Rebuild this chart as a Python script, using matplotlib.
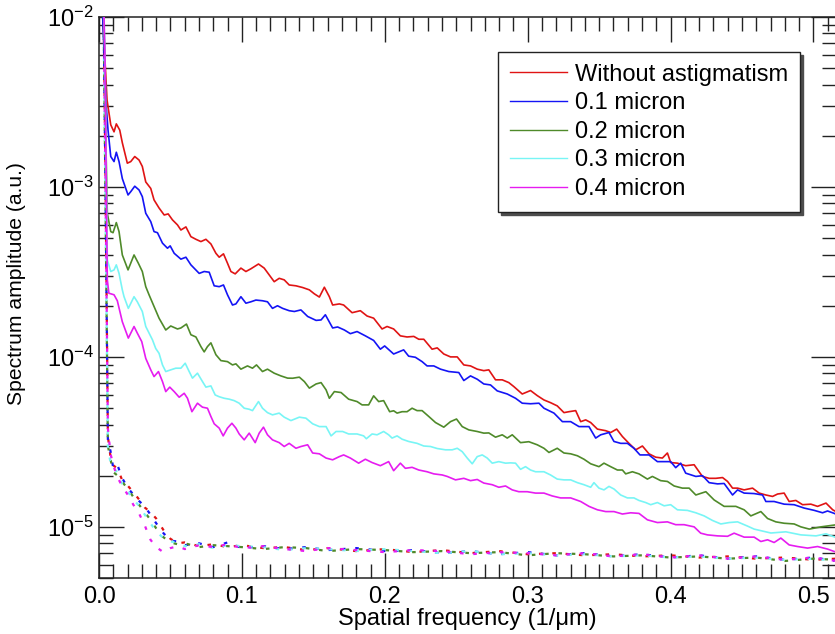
"""
Spectrum amplitude vs spatial frequency for several amounts of astigmatism,
with the matching noise floors drawn dotted underneath.
"""

import math

import matplotlib
matplotlib.use("Agg")
import matplotlib.pyplot as plt
from matplotlib.ticker import FixedLocator, MultipleLocator, FuncFormatter, NullFormatter

plt.rcParams["font.family"] = ["Liberation Sans", "DejaVu Sans"]
plt.rcParams["mathtext.fontset"] = "custom"
plt.rcParams["mathtext.rm"] = "Liberation Sans"

# ---------------------------------------------------------------------------
# Data
# ---------------------------------------------------------------------------
labels = ["Without astigmatism", "0.1 micron", "0.2 micron", "0.3 micron", "0.4 micron"]
colors = ["#e01414", "#1414f5", "#4f8a2a", "#78f5f5", "#e61cf0"]

freq_red = [
    0.002, 0.0042, 0.0056, 0.0082, 0.0105, 0.0121, 0.0145, 0.0163, 0.0198, 0.0222,
    0.025, 0.028, 0.0303, 0.0327, 0.0362, 0.0385, 0.042, 0.0456, 0.0484, 0.0514,
    0.0549, 0.0573, 0.0608, 0.0643, 0.0678, 0.0713, 0.0748, 0.0783, 0.0818, 0.0841,
    0.0871, 0.0899, 0.0923, 0.0953, 0.0993, 0.1028, 0.1063, 0.1116, 0.1156, 0.1191,
    0.1226, 0.1261, 0.1296, 0.1331, 0.1378, 0.1425, 0.1472, 0.1507, 0.1542, 0.1577,
    0.1612, 0.1635, 0.1682, 0.1712, 0.1771, 0.1829, 0.1876, 0.1922, 0.1981, 0.2016,
    0.2062, 0.2109, 0.2156, 0.2203, 0.2238, 0.2273, 0.2331, 0.2367, 0.2413, 0.246,
    0.2507, 0.2553, 0.26, 0.2647, 0.2693, 0.2728, 0.2775, 0.2822, 0.2868, 0.2903,
    0.2962, 0.302, 0.3067, 0.3114, 0.316, 0.3207, 0.3254, 0.3289, 0.3336, 0.3371,
    0.3406, 0.3441, 0.3488, 0.3546, 0.3581, 0.3623, 0.3663, 0.3709, 0.3756, 0.3803,
    0.3849, 0.3896, 0.3943, 0.3978, 0.4001, 0.4048, 0.4106, 0.4165, 0.4223, 0.427,
    0.4317, 0.4364, 0.4399, 0.4434, 0.4469, 0.4515, 0.4574, 0.462, 0.4667, 0.4714,
    0.4749, 0.4795, 0.483, 0.4877, 0.4924, 0.4982, 0.5029, 0.5088, 0.5135, 0.5165,
]
amp_red = [
    1.26e-2, 5.58e-3, 3.25e-3, 2.32e-3, 2.11e-3, 2.35e-3, 2.16e-3, 1.82e-3, 1.38e-3, 1.41e-3,
    1.51e-3, 1.44e-3, 1.32e-3, 1.07e-3, 9.8e-4, 8.39e-4, 7.52e-4, 6.84e-4, 6.94e-4, 6.40e-4,
    5.98e-4, 5.58e-4, 5.82e-4, 5.10e-4, 4.92e-4, 4.77e-4, 4.92e-4, 4.62e-4, 4.07e-4, 3.86e-4,
    4.04e-4, 3.56e-4, 3.18e-4, 3.08e-4, 3.33e-4, 3.18e-4, 3.30e-4, 3.52e-4, 3.33e-4, 3.04e-4,
    2.77e-4, 2.90e-4, 2.84e-4, 2.65e-4, 2.62e-4, 2.56e-4, 2.48e-4, 2.35e-4, 2.25e-4, 2.57e-4,
    2.26e-4, 2.02e-4, 2.05e-4, 2.02e-4, 1.82e-4, 1.87e-4, 1.74e-4, 1.69e-4, 1.46e-4, 1.51e-4,
    1.46e-4, 1.33e-4, 1.31e-4, 1.32e-4, 1.27e-4, 1.27e-4, 1.11e-4, 1.13e-4, 1.04e-4, 1.00e-4,
    1.00e-4, 8.97e-5, 8.85e-5, 8.47e-5, 8.30e-5, 8.39e-5, 7.33e-5, 7.33e-5, 7.06e-5, 6.69e-5,
    6.05e-5, 6.34e-5, 5.92e-5, 5.58e-5, 5.38e-5, 5.15e-5, 4.70e-5, 4.76e-5, 4.83e-5, 4.16e-5,
    4.26e-5, 4.11e-5, 3.76e-5, 3.68e-5, 3.59e-5, 3.76e-5, 3.40e-5, 3.10e-5, 2.84e-5, 2.99e-5,
    2.69e-5, 2.57e-5, 2.54e-5, 2.72e-5, 2.39e-5, 2.37e-5, 2.29e-5, 2.32e-5, 1.98e-5, 1.93e-5,
    1.93e-5, 1.95e-5, 1.85e-5, 1.69e-5, 1.69e-5, 1.65e-5, 1.69e-5, 1.58e-5, 1.54e-5, 1.51e-5,
    1.56e-5, 1.58e-5, 1.41e-5, 1.43e-5, 1.35e-5, 1.36e-5, 1.32e-5, 1.38e-5, 1.26e-5, 1.22e-5,
]

freq_blue = [
    0.002, 0.0039, 0.0047, 0.0063, 0.0082, 0.0105, 0.0121, 0.014, 0.0163, 0.0203,
    0.0222, 0.025, 0.028, 0.0303, 0.0327, 0.0362, 0.0385, 0.0409, 0.0444, 0.0479,
    0.0498, 0.0526, 0.0573, 0.0608, 0.0643, 0.0701, 0.0736, 0.0771, 0.0806, 0.0841,
    0.0871, 0.0899, 0.0934, 0.0958, 0.0993, 0.1028, 0.1063, 0.1098, 0.1144, 0.1179,
    0.1214, 0.1249, 0.1285, 0.1331, 0.1367, 0.1413, 0.146, 0.1519, 0.1554, 0.1584,
    0.1635, 0.167, 0.1717, 0.1759, 0.1806, 0.1864, 0.1922, 0.1969, 0.1999, 0.2062,
    0.2132, 0.2167, 0.2214, 0.2261, 0.2296, 0.2343, 0.239, 0.2448, 0.2518, 0.2553,
    0.26, 0.2647, 0.2693, 0.274, 0.2787, 0.2857, 0.2915, 0.2962, 0.302, 0.3079,
    0.3114, 0.3184, 0.3243, 0.3301, 0.3359, 0.3429, 0.3476, 0.3511, 0.3569, 0.3604,
    0.3651, 0.3698, 0.3744, 0.3786, 0.3849, 0.3908, 0.4001, 0.4036, 0.4071, 0.4106,
    0.4177, 0.4224, 0.427, 0.4329, 0.4375, 0.4434, 0.4469, 0.4515, 0.4585, 0.4644,
    0.4667, 0.4725, 0.4795, 0.4865, 0.4935, 0.5006, 0.5064, 0.5099, 0.5146, 0.5165,
]
amp_blue = [
    1.26e-2, 5.58e-3, 3.25e-3, 2.16e-3, 1.51e-3, 1.41e-3, 1.60e-3, 1.41e-3, 1.12e-3, 8.97e-4,
    9.38e-4, 1.01e-3, 9.6e-4, 8.77e-4, 7.0e-4, 6.25e-4, 5.46e-4, 5.38e-4, 4.67e-4, 4.36e-4,
    4.5e-4, 4.07e-4, 3.76e-4, 3.86e-4, 3.48e-4, 3.10e-4, 3.18e-4, 3.15e-4, 2.62e-4, 2.59e-4,
    2.65e-4, 2.32e-4, 2.02e-4, 2.05e-4, 2.26e-4, 2.07e-4, 2.11e-4, 2.16e-4, 2.14e-4, 2.11e-4,
    1.93e-4, 2.0e-4, 1.93e-4, 1.87e-4, 1.85e-4, 1.89e-4, 1.73e-4, 1.64e-4, 1.65e-4, 1.77e-4,
    1.48e-4, 1.50e-4, 1.44e-4, 1.37e-4, 1.41e-4, 1.33e-4, 1.25e-4, 1.11e-4, 1.16e-4, 1.04e-4,
    1.10e-4, 1.01e-4, 9.95e-5, 9.38e-5, 8.85e-5, 8.85e-5, 8.47e-5, 8.2e-5, 8.09e-5, 7.26e-5,
    7.73e-5, 7.39e-5, 6.93e-5, 6.84e-5, 6.31e-5, 6.05e-5, 5.71e-5, 5.34e-5, 5.30e-5, 5.34e-5,
    4.99e-5, 4.67e-5, 4.16e-5, 4.16e-5, 3.89e-5, 3.89e-5, 3.33e-5, 3.48e-5, 3.59e-5, 3.18e-5,
    3.10e-5, 3.10e-5, 2.90e-5, 2.65e-5, 2.65e-5, 2.42e-5, 2.42e-5, 2.23e-5, 2.37e-5, 2.07e-5,
    1.98e-5, 2.0e-5, 1.82e-5, 1.79e-5, 1.80e-5, 1.54e-5, 1.65e-5, 1.58e-5, 1.57e-5, 1.54e-5,
    1.41e-5, 1.41e-5, 1.36e-5, 1.35e-5, 1.29e-5, 1.25e-5, 1.21e-5, 1.24e-5, 1.20e-5, 1.18e-5,
]

freq_green = [
    0.0028, 0.0042, 0.0049, 0.0058, 0.0082, 0.0098, 0.0121, 0.014, 0.0163, 0.0203,
    0.0245, 0.0275, 0.0303, 0.0327, 0.035, 0.0385, 0.042, 0.0467, 0.0502, 0.0549,
    0.0573, 0.0612, 0.0643, 0.0678, 0.0713, 0.0736, 0.0759, 0.0783, 0.0818, 0.0853,
    0.0899, 0.0934, 0.0958, 0.0993, 0.1039, 0.1074, 0.1102, 0.1144, 0.1179, 0.1226,
    0.1273, 0.132, 0.1355, 0.1402, 0.1437, 0.1472, 0.1519, 0.1554, 0.1589, 0.1612,
    0.1647, 0.1694, 0.1747, 0.1806, 0.1841, 0.1887, 0.1922, 0.1957, 0.1992, 0.2034,
    0.2062, 0.2086, 0.2121, 0.2156, 0.2191, 0.2226, 0.2261, 0.2308, 0.2355, 0.2413,
    0.246, 0.2502, 0.2542, 0.2588, 0.2647, 0.2693, 0.2728, 0.2775, 0.2822, 0.2857,
    0.2892, 0.295, 0.3008, 0.3067, 0.3114, 0.3149, 0.3207, 0.3254, 0.3301, 0.3348,
    0.3394, 0.3441, 0.3499, 0.3534, 0.3581, 0.3628, 0.3663, 0.3686, 0.3733, 0.3779,
    0.3838, 0.3873, 0.3931, 0.3978, 0.4025, 0.4083, 0.413, 0.4177, 0.4247, 0.4305,
    0.4375, 0.4457, 0.4515, 0.4562, 0.4632, 0.4679, 0.4737, 0.4795, 0.4865, 0.4912,
    0.4971, 0.5053, 0.5165,
]
amp_green = [
    1.26e-2, 5.58e-3, 1.65e-3, 7.0e-4, 5.46e-4, 5.38e-4, 6.17e-4, 5.46e-4, 3.98e-4, 3.25e-4,
    3.98e-4, 3.56e-4, 3.18e-4, 2.59e-4, 2.32e-4, 1.98e-4, 1.69e-4, 1.44e-4, 1.52e-4, 1.46e-4,
    1.48e-4, 1.56e-4, 1.35e-4, 1.31e-4, 1.15e-4, 1.07e-4, 1.15e-4, 1.21e-4, 1.03e-4, 9.51e-5,
    9.38e-5, 8.97e-5, 9.1e-5, 8.47e-5, 8.85e-5, 8.58e-5, 8.97e-5, 8.2e-5, 8.47e-5, 8.02e-5,
    7.73e-5, 7.5e-5, 7.49e-5, 7.6e-5, 7.16e-5, 6.55e-5, 6.93e-5, 7.06e-5, 6.4e-5, 5.71e-5,
    6.25e-5, 6.17e-5, 5.64e-5, 5.46e-5, 5.22e-5, 5.22e-5, 5.9e-5, 5.46e-5, 5.53e-5, 4.76e-5,
    4.82e-5, 4.67e-5, 4.76e-5, 4.76e-5, 4.99e-5, 4.83e-5, 4.83e-5, 4.46e-5, 4.11e-5, 3.86e-5,
    4.16e-5, 4.31e-5, 3.89e-5, 3.72e-5, 3.64e-5, 3.56e-5, 3.57e-5, 3.37e-5, 3.48e-5, 3.33e-5,
    3.48e-5, 3.13e-5, 3.17e-5, 3.04e-5, 2.90e-5, 2.74e-5, 2.90e-5, 2.72e-5, 2.69e-5, 2.62e-5,
    2.50e-5, 2.35e-5, 2.26e-5, 2.37e-5, 2.26e-5, 2.16e-5, 2.16e-5, 2.05e-5, 2.11e-5, 2.05e-5,
    1.91e-5, 1.98e-5, 1.87e-5, 1.85e-5, 1.74e-5, 1.69e-5, 1.69e-5, 1.54e-5, 1.61e-5, 1.44e-5,
    1.32e-5, 1.32e-5, 1.26e-5, 1.16e-5, 1.23e-5, 1.12e-5, 1.07e-5, 1.05e-5, 1.04e-5, 1.0e-5,
    9.7e-6, 1.0e-5, 1.03e-5,
]

freq_cyan = [
    0.0032, 0.0042, 0.0049, 0.0058, 0.0082, 0.0105, 0.0121, 0.014, 0.0163, 0.0175,
    0.0205, 0.0245, 0.0268, 0.0303, 0.0327, 0.0374, 0.0397, 0.042, 0.0444, 0.0467,
    0.0502, 0.0537, 0.0573, 0.0603, 0.0631, 0.0654, 0.0689, 0.0724, 0.0748, 0.0783,
    0.0813, 0.0841, 0.0876, 0.0911, 0.0946, 0.0981, 0.1016, 0.1051, 0.1074, 0.1116,
    0.1144, 0.1179, 0.1214, 0.1261, 0.1296, 0.1343, 0.1402, 0.1448, 0.1495, 0.1542,
    0.1589, 0.1624, 0.1659, 0.1705, 0.1747, 0.1806, 0.1852, 0.1871, 0.1911, 0.1946,
    0.1992, 0.2027, 0.2051, 0.2086, 0.2121, 0.2167, 0.2226, 0.2273, 0.232, 0.2367,
    0.2425, 0.2472, 0.2507, 0.2542, 0.2577, 0.2612, 0.2647, 0.2682, 0.2717, 0.2752,
    0.2798, 0.2845, 0.288, 0.2915, 0.295, 0.2985, 0.302, 0.3055, 0.3114, 0.316,
    0.3207, 0.3254, 0.3301, 0.3348, 0.3394, 0.3441, 0.3464, 0.3499, 0.3534, 0.3569,
    0.3604, 0.3651, 0.3698, 0.3744, 0.3779, 0.3826, 0.3861, 0.3908, 0.3955, 0.4001,
    0.4048, 0.4118, 0.4177, 0.4235, 0.4294, 0.4352, 0.441, 0.4469, 0.4539, 0.4585,
    0.4702, 0.4807, 0.4912, 0.5018, 0.5088, 0.5165,
]
amp_cyan = [
    1.26e-2, 5.58e-3, 1.65e-3, 3.72e-4, 3.18e-4, 3.25e-4, 3.48e-4, 3.10e-4, 2.48e-4, 2.26e-4,
    1.93e-4, 2.26e-4, 2.11e-4, 1.85e-4, 1.51e-4, 1.26e-4, 1.12e-4, 1.05e-4, 8.97e-5, 8.2e-5,
    8.39e-5, 8.58e-5, 8.58e-5, 9.18e-5, 8.2e-5, 7.5e-5, 8.02e-5, 7.16e-5, 6.64e-5, 6.75e-5,
    5.97e-5, 5.83e-5, 5.71e-5, 5.64e-5, 5.53e-5, 5.34e-5, 4.99e-5, 4.92e-5, 4.83e-5, 5.46e-5,
    4.99e-5, 4.70e-5, 4.56e-5, 4.67e-5, 4.42e-5, 4.22e-5, 4.42e-5, 4.36e-5, 4.04e-5, 3.89e-5,
    3.89e-5, 3.43e-5, 3.64e-5, 3.64e-5, 3.52e-5, 3.52e-5, 3.43e-5, 3.30e-5, 3.52e-5, 3.48e-5,
    3.64e-5, 3.48e-5, 3.33e-5, 3.43e-5, 3.28e-5, 3.18e-5, 3.10e-5, 2.99e-5, 2.97e-5, 2.89e-5,
    2.84e-5, 2.84e-5, 2.90e-5, 2.77e-5, 2.54e-5, 2.35e-5, 2.59e-5, 2.65e-5, 2.54e-5, 2.37e-5,
    2.42e-5, 2.37e-5, 2.38e-5, 2.37e-5, 2.18e-5, 2.26e-5, 2.16e-5, 2.11e-5, 2.11e-5, 2.02e-5,
    1.91e-5, 1.89e-5, 1.89e-5, 1.82e-5, 1.77e-5, 1.71e-5, 1.82e-5, 1.69e-5, 1.65e-5, 1.73e-5,
    1.67e-5, 1.54e-5, 1.48e-5, 1.48e-5, 1.43e-5, 1.39e-5, 1.35e-5, 1.39e-5, 1.33e-5, 1.35e-5,
    1.26e-5, 1.25e-5, 1.21e-5, 1.16e-5, 1.09e-5, 1.04e-5, 1.06e-5, 1.07e-5, 1.01e-5, 9.7e-6,
    9.2e-6, 9.35e-6, 8.97e-6, 8.85e-6, 9.1e-6, 8.61e-6,
]

freq_magenta = [
    0.0032, 0.0042, 0.0049, 0.0058, 0.0069, 0.0105, 0.0128, 0.0163, 0.0205, 0.0245,
    0.0268, 0.0299, 0.0327, 0.0362, 0.0385, 0.0416, 0.0444, 0.0467, 0.0495, 0.0526,
    0.0561, 0.0596, 0.0619, 0.065, 0.0689, 0.0724, 0.0759, 0.0783, 0.0806, 0.0841,
    0.0869, 0.0899, 0.093, 0.0958, 0.0981, 0.1016, 0.1051, 0.1093, 0.1121, 0.1151,
    0.1179, 0.1214, 0.1261, 0.1296, 0.1331, 0.1378, 0.1413, 0.146, 0.1495, 0.1542,
    0.1589, 0.1635, 0.1682, 0.1712, 0.1759, 0.1817, 0.1864, 0.1911, 0.1969, 0.2027,
    0.2062, 0.2109, 0.2144, 0.2191, 0.2238, 0.2296, 0.2343, 0.2402, 0.2437, 0.2495,
    0.2553, 0.26, 0.2647, 0.2693, 0.2752, 0.2798, 0.2845, 0.2892, 0.2938, 0.2997,
    0.3055, 0.3114, 0.3172, 0.323, 0.3301, 0.3371, 0.3429, 0.3488, 0.3546, 0.3604,
    0.3663, 0.3721, 0.3779, 0.3838, 0.3908, 0.3978, 0.4036, 0.4095, 0.4165, 0.4211,
    0.4258, 0.4329, 0.4399, 0.4445, 0.4515, 0.4585, 0.4632, 0.4679, 0.4725, 0.4772,
    0.483, 0.4889, 0.4959, 0.5029, 0.5099, 0.5146, 0.5165,
]
amp_magenta = [
    1.26e-2, 5.58e-3, 1.44e-3, 2.84e-4, 2.37e-4, 2.32e-4, 2.14e-4, 1.61e-4, 1.29e-4, 1.51e-4,
    1.38e-4, 1.23e-4, 9.8e-5, 8.39e-5, 7.66e-5, 8.2e-5, 7.16e-5, 6.25e-5, 6.64e-5, 6.25e-5,
    5.79e-5, 6.11e-5, 5.71e-5, 4.76e-5, 5.34e-5, 5.06e-5, 4.99e-5, 4.46e-5, 4.04e-5, 3.81e-5,
    3.43e-5, 3.81e-5, 4.07e-5, 3.81e-5, 3.52e-5, 3.25e-5, 3.56e-5, 3.13e-5, 3.56e-5, 3.86e-5,
    3.48e-5, 3.25e-5, 3.13e-5, 2.97e-5, 3.10e-5, 2.90e-5, 2.97e-5, 3.04e-5, 2.72e-5, 2.69e-5,
    2.54e-5, 2.48e-5, 2.59e-5, 2.65e-5, 2.54e-5, 2.37e-5, 2.50e-5, 2.39e-5, 2.29e-5, 2.42e-5,
    2.14e-5, 2.37e-5, 2.21e-5, 2.24e-5, 2.16e-5, 2.11e-5, 2.05e-5, 2.02e-5, 1.98e-5, 1.89e-5,
    1.93e-5, 1.87e-5, 1.90e-5, 1.81e-5, 1.77e-5, 1.71e-5, 1.74e-5, 1.65e-5, 1.61e-5, 1.61e-5,
    1.58e-5, 1.58e-5, 1.52e-5, 1.48e-5, 1.48e-5, 1.41e-5, 1.32e-5, 1.26e-5, 1.23e-5, 1.23e-5,
    1.19e-5, 1.21e-5, 1.20e-5, 1.10e-5, 1.06e-5, 1.07e-5, 1.03e-5, 1.03e-5, 1.0e-5, 9.18e-6,
    8.97e-6, 8.85e-6, 8.8e-6, 9.18e-6, 8.7e-6, 8.7e-6, 8.2e-6, 8.39e-6, 8.09e-6, 8.59e-6,
    7.83e-6, 7.66e-6, 7.5e-6, 7.66e-6, 7.4e-6, 7.16e-6, 7.1e-6,
]

# Noise floors (dotted), one per series, on a common frequency grid
freq_noise = [
    0.003, 0.0045, 0.0062, 0.008, 0.010, 0.013, 0.016, 0.020, 0.024, 0.028,
    0.032, 0.036, 0.040, 0.045, 0.050, 0.055, 0.060, 0.070, 0.080, 0.090,
    0.100, 0.115, 0.130, 0.145, 0.160, 0.180, 0.200, 0.220, 0.240, 0.260,
    0.280, 0.300, 0.320, 0.340, 0.360, 0.380, 0.400, 0.420, 0.440, 0.460,
    0.480, 0.500, 0.516,
]
noise_red = [
    1.5e-2, 1.2e-3, 3.4e-5, 2.6e-5, 2.3e-5, 2.2e-5, 1.9e-5, 1.75e-5, 1.6e-5, 1.45e-5,
    1.3e-5, 1.22e-5, 1.12e-5, 9.6e-6, 8.5e-6, 8.0e-6, 8.1e-6, 7.7e-6, 7.9e-6, 7.6e-6,
    7.8e-6, 7.5e-6, 7.6e-6, 7.3e-6, 7.5e-6, 7.2e-6, 7.4e-6, 7.1e-6, 7.3e-6, 7.0e-6,
    7.2e-6, 6.9e-6, 7.0e-6, 6.8e-6, 6.9e-6, 6.7e-6, 6.8e-6, 6.6e-6, 6.7e-6, 6.5e-6,
    6.6e-6, 6.4e-6, 6.5e-6,
]
noise_blue = [
    1.5e-2, 1.0e-3, 3.2e-5, 2.8e-5, 2.2e-5, 2.3e-5, 1.95e-5, 1.7e-5, 1.55e-5, 1.42e-5,
    1.32e-5, 1.18e-5, 1.05e-5, 9.2e-6, 8.3e-6, 8.2e-6, 7.8e-6, 8.0e-6, 7.6e-6, 8.1e-6,
    7.5e-6, 7.7e-6, 7.4e-6, 7.6e-6, 7.3e-6, 7.5e-6, 7.2e-6, 7.3e-6, 7.0e-6, 7.2e-6,
    6.9e-6, 7.1e-6, 6.8e-6, 7.0e-6, 6.7e-6, 6.9e-6, 6.6e-6, 6.8e-6, 6.5e-6, 6.7e-6,
    6.4e-6, 6.6e-6, 6.3e-6,
]
noise_green = [
    1.5e-2, 9.0e-4, 3.0e-5, 2.5e-5, 2.1e-5, 2.0e-5, 1.85e-5, 1.68e-5, 1.5e-5, 1.35e-5,
    1.22e-5, 1.1e-5, 9.8e-6, 8.7e-6, 8.1e-6, 7.9e-6, 8.0e-6, 7.6e-6, 7.8e-6, 7.7e-6,
    7.6e-6, 7.4e-6, 7.6e-6, 7.5e-6, 7.2e-6, 7.4e-6, 7.3e-6, 7.1e-6, 7.2e-6, 7.0e-6,
    7.1e-6, 6.8e-6, 7.0e-6, 6.9e-6, 6.7e-6, 6.8e-6, 6.6e-6, 6.7e-6, 6.5e-6, 6.6e-6,
    6.3e-6, 6.5e-6, 6.4e-6,
]
noise_cyan = [
    1.5e-2, 8.0e-4, 2.9e-5, 2.4e-5, 2.2e-5, 2.1e-5, 1.8e-5, 1.62e-5, 1.45e-5, 1.33e-5,
    1.18e-5, 1.05e-5, 9.4e-6, 8.6e-6, 8.2e-6, 8.1e-6, 7.7e-6, 7.9e-6, 7.5e-6, 7.8e-6,
    7.7e-6, 7.6e-6, 7.3e-6, 7.5e-6, 7.4e-6, 7.2e-6, 7.4e-6, 7.2e-6, 7.0e-6, 7.2e-6,
    6.9e-6, 7.0e-6, 6.8e-6, 6.9e-6, 6.7e-6, 6.8e-6, 6.6e-6, 6.7e-6, 6.5e-6, 6.6e-6,
    6.4e-6, 6.5e-6, 6.3e-6,
]
noise_magenta = [
    1.5e-2, 1.1e-3, 3.8e-5, 2.7e-5, 2.3e-5, 1.95e-5, 1.75e-5, 1.55e-5, 1.35e-5, 1.2e-5,
    1.02e-5, 8.4e-6, 7.6e-6, 7.1e-6, 7.5e-6, 7.7e-6, 7.4e-6, 7.8e-6, 7.6e-6, 7.9e-6,
    7.5e-6, 7.7e-6, 7.4e-6, 7.2e-6, 7.5e-6, 7.3e-6, 7.1e-6, 7.3e-6, 7.2e-6, 6.9e-6,
    7.1e-6, 7.0e-6, 6.8e-6, 7.0e-6, 6.7e-6, 6.9e-6, 6.6e-6, 6.8e-6, 6.5e-6, 6.7e-6,
    6.4e-6, 6.6e-6, 6.3e-6,
]

y_major = [1e-5, 1e-4, 1e-3, 1e-2]


def decade_label(value, pos):
    exponent = int(round(math.log10(value)))
    return r"$\mathregular{10^{%d}}$" % exponent


def main():
    fig = plt.figure(figsize=(8.35, 6.34), dpi=100)
    ax = fig.add_axes([0.1186, 0.0883, 0.8826, 0.8849])

    solid_series = [
        (freq_red, amp_red),
        (freq_blue, amp_blue),
        (freq_green, amp_green),
        (freq_cyan, amp_cyan),
        (freq_magenta, amp_magenta),
    ]
    noise_series = [noise_red, noise_blue, noise_green, noise_cyan, noise_magenta]

    # Dotted noise floors first, so the solid spectra sit on top
    for i, (noise, color) in enumerate(zip(noise_series, colors)):
        ax.plot(freq_noise, noise, color=color, lw=1.6,
                linestyle=(i * 1.2, (1.6, 4.4)), zorder=2)

    for (freq, amp), color, label in zip(solid_series, colors, labels):
        ax.plot(freq, amp, color=color, lw=1.2, label=label, zorder=3)

    ax.set_yscale("log")
    ax.set_xlim(0.0, 0.5158)
    ax.set_ylim(5.0e-6, 1.0e-2)

    ax.xaxis.set_major_locator(MultipleLocator(0.1))
    ax.xaxis.set_minor_locator(MultipleLocator(0.01))
    ax.xaxis.set_major_formatter(FuncFormatter(lambda v, p: f"{v:.1f}"))

    ax.yaxis.set_major_locator(FixedLocator(y_major))
    ax.yaxis.set_major_formatter(FuncFormatter(decade_label))
    ax.yaxis.set_minor_formatter(NullFormatter())

    ax.tick_params(which="both", direction="in", top=True, right=True,
                   width=1.0, color="#222222", labelsize=17)
    ax.tick_params(which="major", length=18)
    ax.tick_params(which="minor", length=10)
    ax.tick_params(axis="x", which="major", pad=6)
    ax.tick_params(axis="y", which="major", pad=4)

    for spine in ax.spines.values():
        spine.set_linewidth(1.1)
        spine.set_color("#222222")

    ax.set_xlabel("Spatial frequency (1/\u03bcm)", fontsize=17, labelpad=0)
    ax.set_ylabel("Spectrum amplitude (a.u.)", fontsize=15.2)
    ax.yaxis.set_label_coords(-0.099, 0.524)

    legend = ax.legend(loc="upper right", bbox_to_anchor=(0.951, 0.938),
                       borderaxespad=0.0, fontsize=17, frameon=True,
                       fancybox=False, shadow={"color": "0.3", "alpha": 1.0},
                       handlelength=2.4, handletextpad=0.35, labelspacing=0.28,
                       borderpad=0.5)
    legend.get_frame().set_edgecolor("#222222")
    legend.get_frame().set_linewidth(1.0)
    for handle in legend.get_lines():
        handle.set_linewidth(1.0)

    fig.savefig("out.png", dpi=100)


if __name__ == "__main__":
    main()
